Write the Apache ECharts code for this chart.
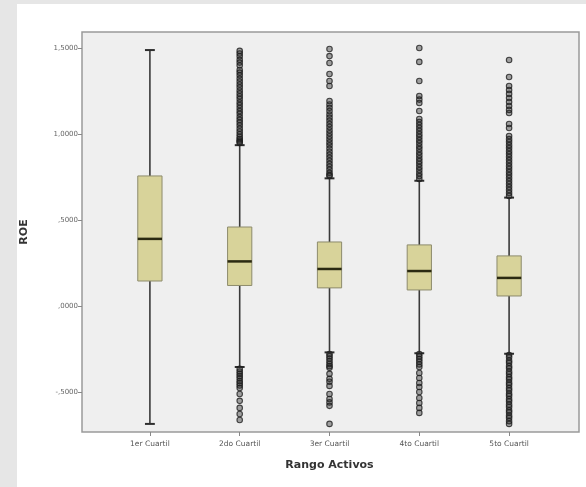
<!DOCTYPE html>
<html>
<head>
<meta charset="utf-8">
<script src="https://cdn.jsdelivr.net/npm/echarts@6/dist/echarts.min.js"></script>
<style>
  html, body { margin: 0; padding: 0; background: #e6e6e6; }
  #panel { position: absolute; left: 17px; top: 4px; width: 569px; height: 483px; background: #ffffff; }
  #chart { position: absolute; left: 0; top: 0; width: 586px; height: 487px; }
</style>
</head>
<body>
<div id="panel"></div>
<div id="chart"></div>
<script>
// ---- data ----
const categories = ['1er Cuartil', '2do Cuartil', '3er Cuartil', '4to Cuartil', '5to Cuartil'];
// [lower whisker, Q1, median, Q3, upper whisker]
const boxStats = [
  [-0.686, 0.145, 0.390, 0.756, 1.488],
  [-0.355, 0.119, 0.259, 0.459, 0.935],
  [-0.270, 0.105, 0.215, 0.372, 0.742],
  [-0.275, 0.093, 0.203, 0.355, 0.728],
  [-0.278, 0.058, 0.163, 0.291, 0.630]
];
const outliers1 = [];
const outliers2 = [1.483, 1.468, 1.452, 1.431, 1.415, 1.398, 1.372, 1.357, 1.341, 1.322, 1.305, 1.288, 1.271, 1.253,
  1.236, 1.219, 1.203, 1.184, 1.168, 1.151, 1.133, 1.117, 1.098, 1.082, 1.066, 1.049, 1.031, 1.014, 0.998,
  0.983, 0.971, 0.962, 0.955, 0.948,
  -0.366, -0.381, -0.395, -0.408, -0.421, -0.437, -0.449, -0.463, -0.477, -0.512, -0.552, -0.593, -0.628, -0.663];
const outliers3 = [1.494, 1.453, 1.413, 1.349, 1.308, 1.279, 1.192, 1.171, 1.152, 1.134, 1.113, 1.095, 1.077,
  1.058, 1.041, 1.022, 1.004, 0.987, 0.969, 0.951, 0.934, 0.915, 0.897, 0.879, 0.862, 0.844, 0.826, 0.809,
  0.792, 0.774, 0.762, 0.756,
  -0.279, -0.292, -0.306, -0.321, -0.337, -0.350, -0.360, -0.395, -0.424, -0.441, -0.465, -0.512, -0.541,
  -0.561, -0.581, -0.686];
const outliers4 = [1.500, 1.419, 1.308, 1.221, 1.200, 1.180, 1.134, 1.087, 1.070, 1.052, 1.035, 1.017, 0.999,
  0.982, 0.964, 0.947, 0.929, 0.912, 0.894, 0.877, 0.859, 0.842, 0.825, 0.807, 0.790, 0.772, 0.755, 0.738,
  -0.279, -0.294, -0.309, -0.324, -0.340, -0.355, -0.390, -0.419, -0.448, -0.471, -0.500, -0.535, -0.564,
  -0.593, -0.622];
const outliers5 = [1.430, 1.331, 1.279, 1.256, 1.233, 1.209, 1.186, 1.163, 1.140, 1.122, 1.058, 1.035, 0.988,
  0.970, 0.953, 0.935, 0.918, 0.900, 0.883, 0.866, 0.848, 0.831, 0.813, 0.796, 0.778, 0.761, 0.744, 0.726,
  0.709, 0.691, 0.674, 0.657, 0.640,
  -0.285, -0.299, -0.318, -0.331, -0.350, -0.363, -0.382, -0.396, -0.414, -0.427, -0.446, -0.459, -0.478,
  -0.492, -0.511, -0.523, -0.542, -0.556, -0.574, -0.588, -0.607, -0.619, -0.638, -0.651, -0.670, -0.686];
const yTickValues = [-0.5, 0, 0.5, 1.0, 1.5];
const yTickLabels = ['-,5000', ',0000', ',5000', '1,0000', '1,5000'];
const yMin = -0.733, yMax = 1.593;
const xTitle = 'Rango Activos';
const yTitle = 'ROE';

// ---- build ----
const boxData = boxStats.map((s, i) => [i].concat(s));
const outlierData = [];
[outliers1, outliers2, outliers3, outliers4, outliers5].forEach((arr, i) => {
  arr.forEach(v => outlierData.push([i, v]));
});

const chart = echarts.init(document.getElementById('chart'), null, { renderer: 'canvas' });

function renderBox(params, api) {
  const x = api.value(0);
  const lo = api.coord([x, api.value(1)]);
  const q1 = api.coord([x, api.value(2)]);
  const med = api.coord([x, api.value(3)]);
  const q3 = api.coord([x, api.value(4)]);
  const hi = api.coord([x, api.value(5)]);
  const band = api.size([1, 0])[0];
  const bw = band * 0.27;
  const cw = band * 0.11;
  const cx = q1[0];
  const whisk = { stroke: '#3a3a3a', lineWidth: 1.6 };
  const cap = { stroke: '#2e2e2e', lineWidth: 2 };
  return {
    type: 'group',
    children: [
      { type: 'line', shape: { x1: cx, y1: hi[1], x2: cx, y2: q3[1] }, style: whisk },
      { type: 'line', shape: { x1: cx, y1: q1[1], x2: cx, y2: lo[1] }, style: whisk },
      { type: 'line', shape: { x1: cx - cw / 2, y1: hi[1], x2: cx + cw / 2, y2: hi[1] }, style: cap },
      { type: 'line', shape: { x1: cx - cw / 2, y1: lo[1], x2: cx + cw / 2, y2: lo[1] }, style: cap },
      { type: 'rect', shape: { x: cx - bw / 2, y: q3[1], width: bw, height: q1[1] - q3[1] },
        style: { fill: '#d8d39a', stroke: '#8d8b6c', lineWidth: 1 } },
      { type: 'line', shape: { x1: cx - bw / 2, y1: med[1], x2: cx + bw / 2, y2: med[1] },
        style: { stroke: '#2b2a12', lineWidth: 2.5 } }
    ]
  };
}

const option = {
  backgroundColor: 'transparent',
  animation: false,
  grid: [
    { left: 82, top: 32, width: 497, height: 400, show: true, backgroundColor: '#efefef',
      borderColor: '#9a9a9a', borderWidth: 1.5 },
    { left: 105, top: 32, width: 449, height: 400, show: false }
  ],
  xAxis: [
    { type: 'value', gridIndex: 0, min: 0, max: 1, show: false },
    { type: 'category', gridIndex: 1, data: categories, boundaryGap: true, position: 'bottom',
      name: xTitle, nameLocation: 'middle', nameGap: 28,
      nameTextStyle: { fontFamily: 'DejaVu Sans', fontWeight: 'bold', fontSize: 11, color: '#333' },
      axisLine: { show: false, onZero: false },
      axisTick: { show: true, alignWithLabel: true, length: 4, lineStyle: { color: '#888' } },
      axisLabel: { fontFamily: 'DejaVu Sans', fontSize: 7.5, color: '#555', margin: 8 },
      splitLine: { show: false } }
  ],
  yAxis: [
    { type: 'value', gridIndex: 0, min: yMin, max: yMax,
      name: yTitle, nameLocation: 'middle', nameGap: 52, nameRotate: 90,
      nameTextStyle: { fontFamily: 'DejaVu Sans', fontWeight: 'bold', fontSize: 11, color: '#333' },
      axisLine: { show: false, onZero: false },
      axisTick: { show: true, length: 4, customValues: yTickValues, lineStyle: { color: '#888' } },
      axisLabel: { fontFamily: 'DejaVu Sans', fontSize: 7, color: '#666', margin: 4,
        customValues: yTickValues,
        formatter: v => { const i = yTickValues.findIndex(t => Math.abs(t - v) < 1e-6); return i >= 0 ? yTickLabels[i] : ''; } },
      splitLine: { show: false } },
    { type: 'value', gridIndex: 1, min: yMin, max: yMax, show: false }
  ],
  series: [
    { type: 'custom', xAxisIndex: 1, yAxisIndex: 1, renderItem: renderBox, data: boxData,
      encode: { x: 0, y: [1, 2, 3, 4, 5] }, z: 2 },
    { type: 'scatter', xAxisIndex: 1, yAxisIndex: 1, data: outlierData, symbol: 'circle', symbolSize: 5.5,
      itemStyle: { color: 'rgba(40,40,40,0.5)', borderColor: '#1e1e1e', borderWidth: 1.1 }, z: 3 }
  ]
};
chart.setOption(option);
</script>
</body>
</html>
